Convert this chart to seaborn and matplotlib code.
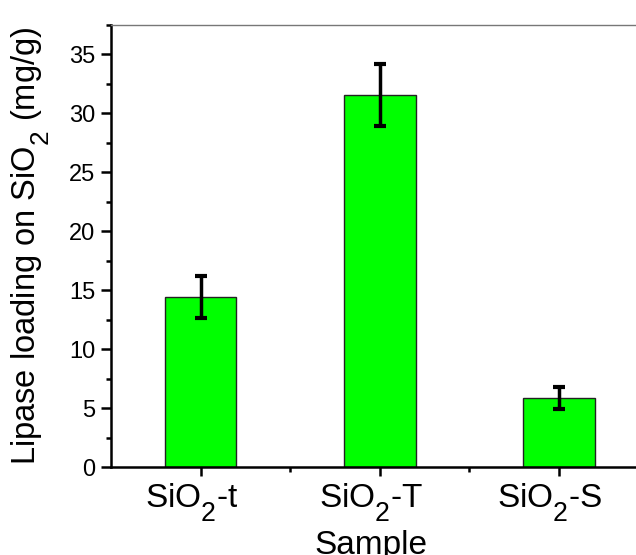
import matplotlib
matplotlib.use("Agg")
import matplotlib.pyplot as plt
import matplotlib._mathtext as _mt
import seaborn as sns
import pandas as pd
from matplotlib.ticker import MultipleLocator, FixedLocator
from matplotlib.transforms import ScaledTranslation

# Origin-style subscripts: larger and dropped further
_mt.FontConstantsBase.sub1 = 0.8
_mt.SHRINK_FACTOR = 0.8

categories = ["SiO$_2$-t", "SiO$_2$-T", "SiO$_2$-S"]
loading = [14.4, 31.55, 5.85]
errors = [1.8, 2.6, 0.95]

sns.set_style("white")
plt.rcParams['font.family'] = ['Liberation Sans', 'DejaVu Sans']
plt.rcParams['mathtext.fontset'] = 'custom'
plt.rcParams['mathtext.rm'] = 'Liberation Sans'
plt.rcParams['mathtext.it'] = 'Liberation Sans'
for k in ['text.color', 'axes.labelcolor', 'xtick.color', 'ytick.color']:
    plt.rcParams[k] = 'black'

df = pd.DataFrame({"Sample": categories, "Loading": loading})

fig = plt.figure(figsize=(6.36, 5.55), dpi=100)
ax = fig.add_axes([111/636, 88/555, (648.5-111)/636, (467-25)/555])

sns.barplot(data=df, x="Sample", y="Loading", color="#00FF00", width=0.4,
            edgecolor="#222222", linewidth=1.0, saturation=1, ax=ax, errorbar=None)
ax.errorbar(range(len(categories)), loading, yerr=errors, fmt="none",
            ecolor="black", elinewidth=2.5, capsize=4.3, capthick=3)

ax.set_xlim(-0.5, 2.5)
ax.set_ylim(0, 37.5)
ax.yaxis.set_major_locator(MultipleLocator(5))
ax.yaxis.set_minor_locator(MultipleLocator(2.5))
ax.xaxis.set_minor_locator(FixedLocator([0.5, 1.5]))

for side in ["left", "bottom"]:
    ax.spines[side].set_color("black")
    ax.spines[side].set_linewidth(1.8)
ax.spines["top"].set_color("#777777")
ax.spines["top"].set_linewidth(1.0)
ax.spines["right"].set_visible(False)

ax.tick_params(axis="y", which="major", direction="out", length=7, width=1.8,
               labelsize=17, left=True, pad=4.5, colors="black")
ax.tick_params(axis="y", which="minor", direction="out", length=3.5, width=1.8, left=True)
ax.tick_params(axis="x", which="major", direction="out", length=6.5, width=1.8,
               labelsize=24, bottom=True, pad=4, colors="black")
ax.tick_params(axis="x", which="minor", direction="out", length=3.5, width=1.8, bottom=True)

shift = ScaledTranslation(-9/100, 0, fig.dpi_scale_trans)
for lbl in ax.get_xticklabels():
    lbl.set_transform(lbl.get_transform() + shift)

ax.set_xlabel("Sample", fontsize=24, labelpad=4, color="black")
ax.xaxis.label.set_transform(ax.xaxis.label.get_transform() + shift)
ax.set_ylabel("Lipase loading on SiO$_2$ (mg/g)", fontsize=23.5, labelpad=12, color="black")

fig.savefig("out.png", dpi=100)
